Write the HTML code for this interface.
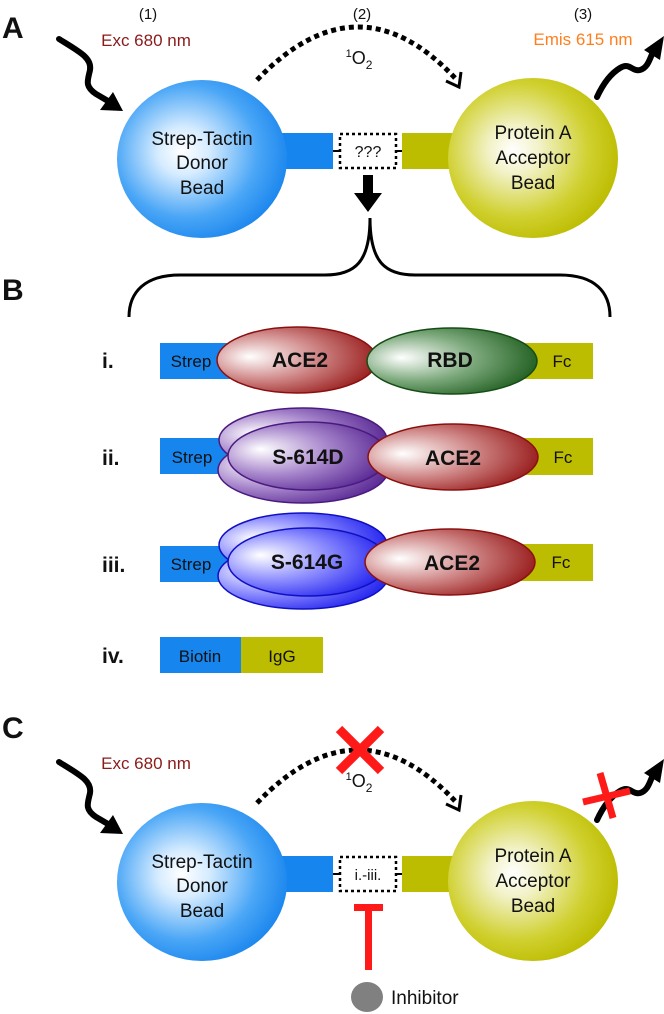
<!DOCTYPE html>
<html><head><meta charset="utf-8"><style>
html,body{margin:0;padding:0;background:#fff;}
svg{display:block;}
text{font-family:"Liberation Sans",Arial,sans-serif;}
</style></head><body>
<svg width="664" height="1014" viewBox="0 0 664 1014" xmlns="http://www.w3.org/2000/svg">
<defs>
<radialGradient id="gb" cx="0.42" cy="0.45" r="0.6" fx="0.38" fy="0.45"><stop offset="0" stop-color="#ffffff"/><stop offset="0.25" stop-color="#d6ecff"/><stop offset="0.7" stop-color="#4aa6f6"/><stop offset="1" stop-color="#1b86ee"/></radialGradient>
<radialGradient id="gy" cx="0.42" cy="0.45" r="0.6" fx="0.38" fy="0.45"><stop offset="0" stop-color="#ffffff"/><stop offset="0.25" stop-color="#f2f2c8"/><stop offset="0.7" stop-color="#d0d030"/><stop offset="1" stop-color="#bcbc00"/></radialGradient>
<radialGradient id="gr" cx="0.35" cy="0.45" r="0.7" fx="0.2" fy="0.45"><stop offset="0" stop-color="#ffffff"/><stop offset="0.5" stop-color="#d08888"/><stop offset="1" stop-color="#951515"/></radialGradient>
<radialGradient id="gg" cx="0.35" cy="0.45" r="0.7" fx="0.2" fy="0.45"><stop offset="0" stop-color="#ffffff"/><stop offset="0.5" stop-color="#7eaa7e"/><stop offset="1" stop-color="#1b5a1b"/></radialGradient>
<radialGradient id="gp" cx="0.35" cy="0.45" r="0.7" fx="0.2" fy="0.4"><stop offset="0" stop-color="#ffffff"/><stop offset="0.5" stop-color="#a887cc"/><stop offset="1" stop-color="#52208f"/></radialGradient>
<radialGradient id="gbl" cx="0.35" cy="0.45" r="0.7" fx="0.2" fy="0.4"><stop offset="0" stop-color="#ffffff"/><stop offset="0.5" stop-color="#8c8cff"/><stop offset="1" stop-color="#1a1aee"/></radialGradient>
<g id="panel">
  <path d="M59,39 C80,52 92,58 90,70 C88,80 84,86 96,94 L108,101" fill="none" stroke="#000" stroke-width="6" stroke-linecap="round"/>
  <polygon points="123,111 100,110 113,92" fill="#000"/>
  <path d="M257,80 Q358,-25 455,78" fill="none" stroke="#000" stroke-width="5" stroke-dasharray="5 4"/>
  <path d="M446,81 L459,87 L461,72" fill="none" stroke="#000" stroke-width="3"/>
  <rect x="280" y="133" width="53" height="36" fill="#1785ee"/>
  <rect x="402" y="133" width="52" height="36" fill="#bcbc00"/>
  <ellipse cx="202" cy="159" rx="85" ry="79" fill="url(#gb)"/>
  <ellipse cx="533" cy="158" rx="85" ry="80" fill="url(#gy)"/>
  <line x1="333" y1="151" x2="340" y2="151" stroke="#000" stroke-width="2"/>
  <line x1="396" y1="151" x2="402" y2="151" stroke="#000" stroke-width="2"/>
  <rect x="340" y="134" width="56" height="34" fill="#fff" stroke="#000" stroke-width="2.5" stroke-dasharray="3 3"/>
  <g font-size="19" fill="#111" text-anchor="middle">
    <text x="202" y="145">Strep-Tactin</text>
    <text x="202" y="169">Donor</text>
    <text x="202" y="194">Bead</text>
    <text x="533" y="139">Protein A</text>
    <text x="533" y="164">Acceptor</text>
    <text x="533" y="189">Bead</text>
  </g>
  <path d="M597,97 C603,84 610,74 620,68 C630,62 632,72 640,70 C648,68 650,58 653,52" fill="none" stroke="#000" stroke-width="6" stroke-linecap="round"/>
  <polygon points="664,36 644,50 660,60" fill="#000"/>
  <text x="359" y="64" font-size="18" text-anchor="middle" fill="#111"><tspan font-size="11" dy="-7">1</tspan><tspan dy="7">O</tspan><tspan font-size="12" dy="5">2</tspan></text>
  <text x="146" y="46" font-size="17" text-anchor="middle" fill="#8b1a1a">Exc 680 nm</text>
</g>
</defs>

<text x="2" y="38" font-size="30" font-weight="bold" fill="#111">A</text>
<use href="#panel"/>
<text x="368" y="157" font-size="16" text-anchor="middle" fill="#111">???</text>
<g font-size="15" fill="#111" text-anchor="middle">
<text x="148" y="19">(1)</text><text x="362" y="19">(2)</text><text x="583" y="19">(3)</text>
</g>
<text x="583" y="45" font-size="17" text-anchor="middle" fill="#ff7f1e">Emis 615 nm</text>
<rect x="363" y="175" width="10" height="20" fill="#000"/>
<polygon points="354,193 382,193 368,212" fill="#000"/>

<path d="M129,317 C129,292 145,275 180,275 L325,275 C355,275 370,262 370,218 C370,262 385,275 415,275 L560,275 C595,275 610,292 610,317" fill="none" stroke="#000" stroke-width="3"/>

<text x="2" y="300" font-size="30" font-weight="bold" fill="#111">B</text>
<g font-size="21" font-weight="bold" fill="#111">
<text x="102" y="368">i.</text><text x="102" y="465">ii.</text><text x="102" y="572">iii.</text><text x="102" y="663">iv.</text>
</g>
<rect x="160" y="343" width="70" height="36" fill="#1785ee"/>
<rect x="520" y="343" width="73" height="36" fill="#bcbc00"/>
<ellipse cx="297" cy="360" rx="80" ry="33" fill="url(#gr)" stroke="#8a1010" stroke-width="1.5"/>
<ellipse cx="452" cy="361" rx="85" ry="33" fill="url(#gg)" stroke="#154d15" stroke-width="1.5"/>
<rect x="160" y="438" width="70" height="36" fill="#1785ee"/>
<rect x="520" y="438" width="73" height="37" fill="#bcbc00"/>
<ellipse cx="303" cy="440" rx="84" ry="32" fill="url(#gp)" stroke="#4a1a80" stroke-width="1.5"/>
<ellipse cx="303" cy="470" rx="85" ry="33" fill="url(#gp)" stroke="#4a1a80" stroke-width="1.5"/>
<ellipse cx="308" cy="456" rx="80" ry="34" fill="url(#gp)" stroke="#4a1a80" stroke-width="1.5"/>
<ellipse cx="453" cy="457" rx="85" ry="33" fill="url(#gr)" stroke="#8a1010" stroke-width="1.5"/>
<rect x="160" y="546" width="70" height="36" fill="#1785ee"/>
<rect x="520" y="544" width="73" height="37" fill="#bcbc00"/>
<ellipse cx="303" cy="545" rx="84" ry="32" fill="url(#gbl)" stroke="#1010c0" stroke-width="1.5"/>
<ellipse cx="303" cy="576" rx="85" ry="33" fill="url(#gbl)" stroke="#1010c0" stroke-width="1.5"/>
<ellipse cx="308" cy="562" rx="80" ry="34" fill="url(#gbl)" stroke="#1010c0" stroke-width="1.5"/>
<ellipse cx="450" cy="562" rx="85" ry="33" fill="url(#gr)" stroke="#8a1010" stroke-width="1.5"/>
<rect x="160" y="637" width="81" height="36" fill="#1785ee"/>
<rect x="241" y="637" width="82" height="36" fill="#bcbc00"/>
<g font-size="17" fill="#111" text-anchor="middle">
<text x="191" y="367">Strep</text><text x="562" y="367">Fc</text>
<text x="192" y="463">Strep</text><text x="563" y="463">Fc</text>
<text x="191" y="570">Strep</text><text x="561" y="568">Fc</text>
<text x="200" y="662">Biotin</text><text x="282" y="662">IgG</text>
</g>
<g font-size="21" font-weight="bold" fill="#111" text-anchor="middle">
<text x="300" y="367">ACE2</text><text x="450" y="367">RBD</text>
<text x="308" y="464">S-614D</text><text x="453" y="465">ACE2</text>
<text x="307" y="569">S-614G</text><text x="452" y="570">ACE2</text>
</g>

<text x="2" y="738" font-size="30" font-weight="bold" fill="#111">C</text>
<g transform="translate(0,723)"><use href="#panel"/>
<text x="368" y="157" font-size="15" text-anchor="middle" fill="#111">i.-iii.</text>
</g>
<line x1="339" y1="729" x2="381" y2="771" stroke="#ff1a1a" stroke-width="9"/>
<line x1="381" y1="729" x2="339" y2="771" stroke="#ff1a1a" stroke-width="9"/>
<line x1="600" y1="773" x2="613" y2="818" stroke="#ff1a1a" stroke-width="7"/>
<line x1="583" y1="802" x2="630" y2="791" stroke="#ff1a1a" stroke-width="7"/>
<rect x="354" y="904" width="29" height="7" fill="#ff1a1a"/>
<rect x="365" y="904" width="7" height="66" fill="#ff1a1a"/>
<ellipse cx="367" cy="997" rx="16" ry="15" fill="#808080"/>
<text x="391" y="1004" font-size="19" fill="#111">Inhibitor</text>
</svg>
</body></html>
